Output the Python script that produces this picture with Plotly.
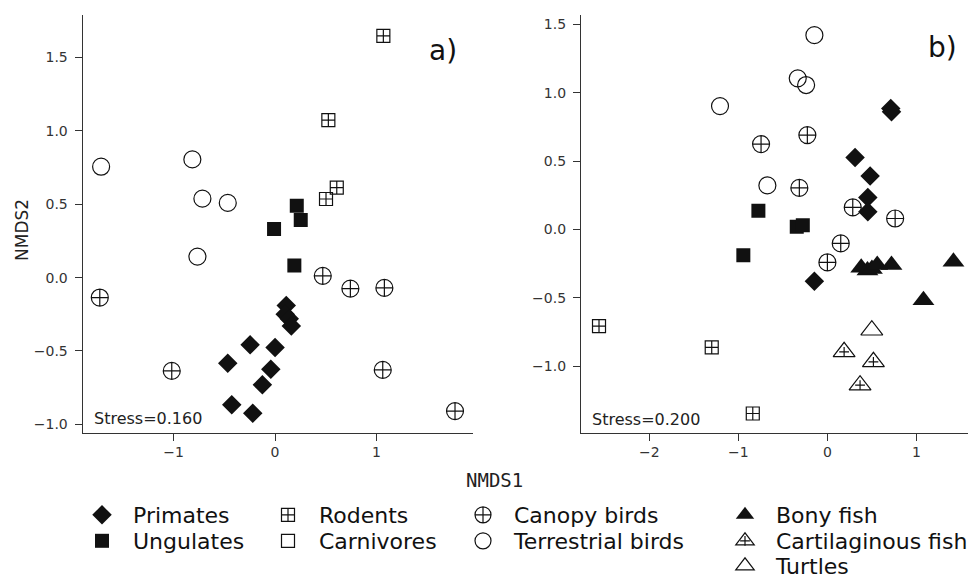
import plotly.graph_objects as go

# ---------------- data ----------------
# Panel a
a_primates_x = [0.11, 0.10, 0.14, 0.16, -0.246, 0.0, -0.466, -0.042, -0.125, -0.427, -0.22]
a_primates_y = [-0.19, -0.25, -0.28, -0.33, -0.458, -0.477, -0.583, -0.624, -0.731, -0.867, -0.924]
a_ungulates_x = [-0.01, 0.214, 0.253, 0.19]
a_ungulates_y = [0.332, 0.49, 0.393, 0.082]
a_rodents_x = [1.067, 0.525, 0.608, 0.502]
a_rodents_y = [1.648, 1.074, 0.613, 0.536]
a_canopy_x = [-1.727, -1.018, 0.47, 0.742, 1.077, 1.061, 1.773]
a_canopy_y = [-0.136, -0.636, 0.012, -0.075, -0.07, -0.629, -0.91]
a_terrestrial_x = [-1.714, -0.815, -0.716, -0.466, -0.765]
a_terrestrial_y = [0.756, 0.806, 0.538, 0.509, 0.143]

# Panel b
b_primates_x = [0.712, 0.72, 0.311, 0.48, 0.454, 0.454, -0.146]
b_primates_y = [0.885, 0.86, 0.527, 0.39, 0.234, 0.129, -0.378]
b_ungulates_x = [-0.775, -0.344, -0.276, -0.944]
b_ungulates_y = [0.136, 0.019, 0.031, -0.188]
b_rodents_x = [-2.565, -1.299, -0.838]
b_rodents_y = [-0.707, -0.863, -1.346]
b_canopy_x = [-0.745, -0.225, -0.315, 0.285, 0.761, 0.15, 0.0]
b_canopy_y = [0.624, 0.69, 0.304, 0.161, 0.08, -0.102, -0.241]
b_terrestrial_x = [-0.146, -0.333, -0.239, -1.206, -0.674]
b_terrestrial_y = [1.421, 1.105, 1.056, 0.902, 0.322]
b_bony_x = [0.38, 0.45, 0.50, 0.56, 0.72, 1.079, 1.416]
b_bony_y = [-0.28, -0.30, -0.29, -0.26, -0.26, -0.517, -0.237]
b_cartilaginous_x = [0.188, 0.517, 0.367]
b_cartilaginous_y = [-0.895, -0.968, -1.139]
b_turtles_x = [0.499]
b_turtles_y = [-0.737]

stress_labels = ["Stress=0.160", "Stress=0.200"]
panel_labels = ["a)", "b)"]
y_ticks = [-1.0, -0.5, 0.0, 0.5, 1.0, 1.5]
xa_ticks = [-1, 0, 1]
xb_ticks = [-2, -1, 0, 1]

# ---------------- styles ----------------
BLACK = "#111111"
FONT = "DejaVu Sans"
styles = {
    "Primates": dict(symbol="diamond", size=15, color=BLACK, line=dict(width=0)),
    "Ungulates": dict(symbol="square", size=14, color=BLACK, line=dict(width=0)),
    "Rodents": dict(symbol="square-cross-open", size=13, color=BLACK, line=dict(width=1.2)),
    "Carnivores": dict(symbol="square-open", size=13, color=BLACK, line=dict(width=1.2)),
    "Canopy birds": dict(symbol="circle-cross-open", size=17, color=BLACK, line=dict(width=1.2)),
    "Terrestrial birds": dict(symbol="circle-open", size=17, color=BLACK, line=dict(width=1.2)),
    "Bony fish": dict(symbol="triangle-up", size=19, color=BLACK, line=dict(width=0)),
    "Cartilaginous fish": dict(symbol="triangle-up-open", size=19, color=BLACK, line=dict(width=1.2)),
    "Turtles": dict(symbol="triangle-up-open", size=19, color=BLACK, line=dict(width=1.2)),
}
cross_style = dict(symbol="cross-thin-open", size=7, color=BLACK, line=dict(width=1.2))

legend_of = {
    "Primates": "legend", "Ungulates": "legend2",
    "Rodents": "legend3", "Carnivores": "legend4",
    "Canopy birds": "legend5", "Terrestrial birds": "legend6",
    "Bony fish": "legend7", "Cartilaginous fish": "legend8", "Turtles": "legend9",
}

fig = go.Figure()

def add(name, xs, ys, xa, ya, show):
    fig.add_trace(go.Scatter(
        x=xs, y=ys, mode="markers", name=name, legendgroup=name,
        showlegend=show, legend=legend_of[name], marker=styles[name],
        xaxis=xa, yaxis=ya, hoverinfo="x+y+name"))

# Panel a
add("Terrestrial birds", a_terrestrial_x, a_terrestrial_y, "x", "y", True)
add("Canopy birds", a_canopy_x, a_canopy_y, "x", "y", True)
add("Rodents", a_rodents_x, a_rodents_y, "x", "y", True)
add("Ungulates", a_ungulates_x, a_ungulates_y, "x", "y", True)
add("Primates", a_primates_x, a_primates_y, "x", "y", True)
# Carnivores: legend only
add("Carnivores", [None], [None], "x", "y", True)

# Panel b
add("Terrestrial birds", b_terrestrial_x, b_terrestrial_y, "x2", "y2", False)
add("Canopy birds", b_canopy_x, b_canopy_y, "x2", "y2", False)
add("Rodents", b_rodents_x, b_rodents_y, "x2", "y2", False)
add("Ungulates", b_ungulates_x, b_ungulates_y, "x2", "y2", False)
add("Primates", b_primates_x, b_primates_y, "x2", "y2", False)
add("Bony fish", b_bony_x, b_bony_y, "x2", "y2", True)
add("Turtles", b_turtles_x, b_turtles_y, "x2", "y2", True)
add("Cartilaginous fish", b_cartilaginous_x, b_cartilaginous_y, "x2", "y2", True)
# cross inside cartilaginous-fish triangles (also overlaid on its legend symbol)
fig.add_trace(go.Scatter(
    x=b_cartilaginous_x, y=b_cartilaginous_y, mode="markers",
    name="Cartilaginous fish", legendgroup="Cartilaginous fish",
    showlegend=True, legend="legend10", marker=cross_style,
    xaxis="x2", yaxis="y2", hoverinfo="skip"))

# ---------------- axes ----------------
axis_common = dict(showline=True, linecolor="#333333", linewidth=1.3, ticks="outside",
                   ticklen=7, tickwidth=1.3, tickcolor="#333333", showgrid=False,
                   zeroline=False, tickfont=dict(family=FONT, size=14, color="#333333"),
                   mirror=False)
fig.update_layout(
    width=970, height=578,
    margin=dict(l=0, r=0, t=0, b=0, autoexpand=False),
    paper_bgcolor="white", plot_bgcolor="white",
    xaxis=dict(domain=[0.0853, 0.4876], range=[-1.895, 1.95], tickvals=xa_ticks,
               anchor="y", **axis_common),
    yaxis=dict(domain=[0.2517, 0.974], range=[-1.056, 1.79], tickvals=y_ticks,
               tickformat=".1f", anchor="x", ticklabelstandoff=4, **axis_common),
    xaxis2=dict(domain=[0.599, 0.998], range=[-2.767, 1.58], tickvals=xb_ticks,
                anchor="y2", **axis_common),
    yaxis2=dict(domain=[0.2517, 0.974], range=[-1.485, 1.568], tickvals=y_ticks,
                tickformat=".1f", anchor="x2", ticklabelstandoff=4, **axis_common),
)

# ---------------- legends (one per cell) ----------------
col_sym_x = [102, 288, 483, 745]
row_y = [515, 541, 566]
ITEMW = 52
sym_offset = (ITEMW + 10) / 2
cells = {
    "legend": (0, 0), "legend2": (0, 1),
    "legend3": (1, 0), "legend4": (1, 1),
    "legend5": (2, 0), "legend6": (2, 1),
    "legend7": (3, 0), "legend8": (3, 1), "legend9": (3, 2),
    "legend10": (3, 1),
}
leg_layout = {}
for key, (c, r) in cells.items():
    leg_layout[key] = dict(
        x=(col_sym_x[c] - sym_offset) / 970, xanchor="left",
        y=1 - row_y[r] / 578, yanchor="middle",
        bgcolor="rgba(0,0,0,0)", borderwidth=0, itemwidth=ITEMW,
        font=dict(family=FONT, size=22,
                  color="rgba(0,0,0,0)" if key == "legend10" else "#111111"),
        itemclick=False, itemdoubleclick=False,
    )
fig.update_layout(**leg_layout)

# ---------------- text annotations ----------------
ann = []
ann.append(dict(text=stress_labels[0], xref="x domain", yref="y domain", x=0.023, y=0.033,
                xanchor="left", yanchor="middle", showarrow=False,
                font=dict(family=FONT, size=16, color="#222222")))
ann.append(dict(text=stress_labels[1], xref="x2 domain", yref="y2 domain", x=0.023, y=0.031,
                xanchor="left", yanchor="middle", showarrow=False,
                font=dict(family=FONT, size=16, color="#222222")))
ann.append(dict(text=panel_labels[0], xref="x domain", yref="y domain", x=0.963, y=0.916,
                xanchor="right", yanchor="middle", showarrow=False,
                font=dict(family=FONT, size=28, color="#111111")))
ann.append(dict(text=panel_labels[1], xref="x2 domain", yref="y2 domain", x=0.976, y=0.923,
                xanchor="right", yanchor="middle", showarrow=False,
                font=dict(family=FONT, size=28, color="#111111")))
ann.append(dict(text="NMDS1", xref="paper", yref="paper", x=495 / 970, y=1 - 480 / 578,
                xanchor="center", yanchor="middle", showarrow=False,
                font=dict(family="DejaVu Sans Mono", size=19, color="#222222")))
ann.append(dict(text="NMDS2", xref="paper", yref="paper", x=22 / 970, y=1 - 230 / 578,
                xanchor="center", yanchor="middle", showarrow=False, textangle=-90,
                font=dict(family=FONT, size=17, color="#222222")))
fig.update_layout(annotations=ann)

fig.write_html("out.html", config={"displayModeBar": False},
               post_script="document.body.style.margin='0';document.body.style.overflow='hidden';")
